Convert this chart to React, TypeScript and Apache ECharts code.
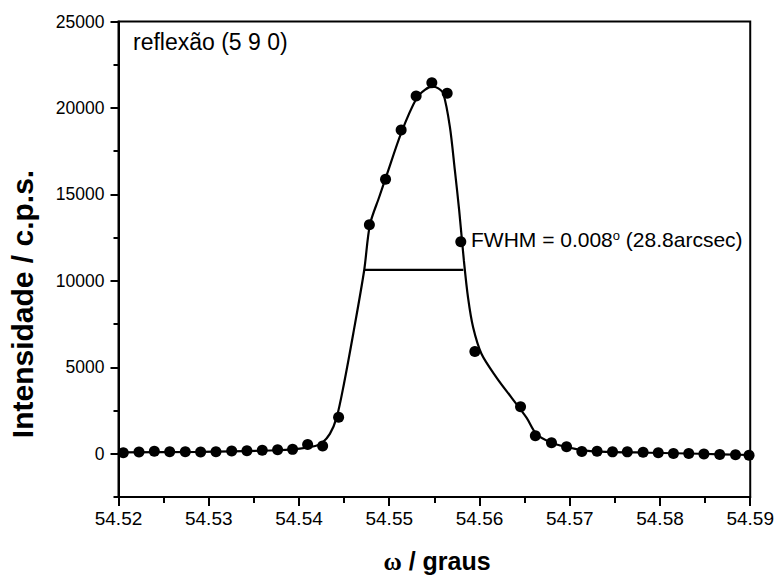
import React, { useEffect, useRef } from "react";
import * as echarts from "echarts";

// Observed points (ω in degrees, intensity in c.p.s.)
const omegaObs = [
  54.52053, 54.52227, 54.52397, 54.52567, 54.5274, 54.5291, 54.5308, 54.53254,
  54.53423, 54.53593, 54.53763, 54.53929, 54.54096, 54.54262, 54.54439, 54.5478,
  54.54959, 54.55132, 54.55298, 54.55472, 54.55642, 54.55793, 54.55949, 54.56455,
  54.56619, 54.56798, 54.56965, 54.57134, 54.57303, 54.57474, 54.57638, 54.57813,
  54.57981, 54.58149, 54.58319, 54.58487, 54.58662, 54.58837, 54.58987,
];
const intensityObs = [
  60, 100, 140, 120, 115, 100, 115, 155,
  175, 200, 230, 255, 540, 450, 2110, 13250,
  15880, 18720, 20690, 21460, 20850, 12260, 5920, 2720,
  1040, 640, 400, 130, 150, 110, 110, 90,
  60, 20, 10, -10, -40, -60, -80,
];

// Fitted curve
const omegaFit = [
  54.52, 54.529, 54.5368, 54.5401, 54.5418, 54.54254, 54.54342, 54.54417,
  54.54498, 54.54601, 54.54722, 54.54786, 54.54889, 54.54971, 54.55137, 54.55303,
  54.55395, 54.5548, 54.55539, 54.55598, 54.55672, 54.55727, 54.55775, 54.55827,
  54.55874, 54.5593, 54.56023, 54.56189, 54.56355, 54.56521, 54.56632, 54.56798,
  54.56968, 54.57134, 54.57333, 54.57887, 54.5844, 54.59,
];
const intensityFit = [
  80, 110, 190, 300, 450, 620, 1150, 2090,
  4040, 6940, 10600, 13250, 14850, 16110, 18620, 20560,
  21050, 21230, 21150, 20850, 18910, 16400, 14080, 11180,
  9000, 7300, 5770, 4410, 3250, 2090, 1130, 640,
  390, 215, 128, 60, 0, -70,
];

// FWHM marker
const fwhmOmega = [54.5473, 54.55821];
const fwhmLevel = 10640;

// Axis ticks
const xMajorTicks = [54.52, 54.53, 54.54, 54.55, 54.56, 54.57, 54.58, 54.59];
const xMinorTicks = [54.525, 54.535, 54.545, 54.555, 54.565, 54.575, 54.585];
const yMajorTicks = [0, 5000, 10000, 15000, 20000, 25000];
const yMinorTicks = [-2500, 2500, 7500, 12500, 17500, 22500];

const FONT = "'Liberation Sans', Arial, Helvetica, sans-serif";

export default function App() {
  const ref = useRef<HTMLDivElement>(null);

  useEffect(() => {
    if (!ref.current) return;
    const chart = echarts.init(ref.current, null, { renderer: "svg" });
    const obs = omegaObs.map((x, i) => [x, intensityObs[i]]);
    const fit = omegaFit.map((x, i) => [x, intensityFit[i]]);
    const fwhm = fwhmOmega.map((x) => [x, fwhmLevel]);

    const xBase = {
      type: "value",
      min: 54.52,
      max: 54.59,
      position: "bottom",
      splitLine: { show: false },
    };
    const yBase = {
      type: "value",
      min: -2500,
      max: 25000,
      position: "left",
      splitLine: { show: false },
    };

    chart.setOption({
      animation: false,
      backgroundColor: "#ffffff",
      grid: {
        left: 118.5,
        top: 21.5,
        width: 632,
        height: 475.5,
        show: true,
        borderColor: "#000",
        borderWidth: 2,
        backgroundColor: "transparent",
      },
      xAxis: [
        {
          ...xBase,
          axisLine: { show: true, onZero: false, lineStyle: { color: "#000", width: 2 } },
          axisTick: {
            show: true,
            customValues: xMajorTicks,
            length: 9,
            inside: false,
            lineStyle: { color: "#000", width: 2 },
          },
          axisLabel: {
            customValues: xMajorTicks,
            formatter: (v: number) => v.toFixed(2),
            color: "#000",
            fontFamily: FONT,
            fontSize: 19,
            margin: 12,
          },
        },
        {
          ...xBase,
          axisLine: { show: false, onZero: false },
          axisTick: {
            show: true,
            customValues: xMinorTicks,
            length: 6,
            lineStyle: { color: "#000", width: 2 },
          },
          axisLabel: { show: false },
        },
      ],
      yAxis: [
        {
          ...yBase,
          axisLine: { show: true, onZero: false, lineStyle: { color: "#000", width: 2 } },
          axisTick: {
            show: true,
            customValues: yMajorTicks,
            length: 8,
            lineStyle: { color: "#000", width: 2 },
          },
          axisLabel: {
            customValues: yMajorTicks,
            formatter: (v: number) => String(Math.round(v)),
            color: "#000",
            fontFamily: FONT,
            fontSize: 17.5,
            margin: 14,
          },
        },
        {
          ...yBase,
          axisLine: { show: false, onZero: false },
          axisTick: {
            show: true,
            customValues: yMinorTicks,
            length: 5,
            lineStyle: { color: "#000", width: 2 },
          },
          axisLabel: { show: false },
        },
      ],
      series: [
        {
          type: "line",
          data: fit,
          xAxisIndex: 0,
          yAxisIndex: 0,
          showSymbol: false,
          symbol: "none",
          smooth: 0.3,
          lineStyle: { color: "#000", width: 2.2 },
          silent: true,
          z: 2,
        },
        {
          type: "line",
          data: fwhm,
          xAxisIndex: 0,
          yAxisIndex: 0,
          symbol: "none",
          lineStyle: { color: "#000", width: 2.2 },
          silent: true,
          z: 2,
        },
        {
          type: "scatter",
          data: obs,
          xAxisIndex: 0,
          yAxisIndex: 0,
          symbol: "circle",
          symbolSize: 11,
          itemStyle: { color: "#000", opacity: 1 },
          z: 3,
        },
      ],
      graphic: [
        {
          type: "text",
          x: 133,
          y: 42,
          style: {
            text: "reflexão (5 9 0)",
            font: `23px ${FONT}`,
            fill: "#000",
            align: "left",
            verticalAlign: "middle",
          },
        },
        {
          type: "text",
          x: 471,
          y: 239,
          style: {
            text: "{a|FWHM = 0.008}{s|o}{a| (28.8arcsec)}",
            fill: "#000",
            align: "left",
            verticalAlign: "middle",
            rich: {
              a: { fontFamily: FONT, fontSize: 21, fill: "#000" },
              s: { fontFamily: FONT, fontSize: 13, fill: "#000", verticalAlign: "top" },
            },
          },
        },
        {
          type: "text",
          x: 22,
          y: 304,
          rotation: Math.PI / 2,
          style: {
            text: "Intensidade / c.p.s.",
            font: `bold 30px ${FONT}`,
            fill: "#000",
            align: "center",
            verticalAlign: "middle",
          },
        },
        {
          type: "text",
          x: 437,
          y: 561,
          style: {
            text: "{w|ω}{t| / graus}",
            fill: "#000",
            align: "center",
            verticalAlign: "middle",
            rich: {
              w: { fontFamily: "'Liberation Serif', 'DejaVu Serif', serif", fontWeight: "bold", fontSize: 25, fill: "#000" },
              t: { fontFamily: FONT, fontWeight: "bold", fontSize: 25, fill: "#000" },
            },
          },
        },
      ],
    });
    return () => chart.dispose();
  }, []);

  return (
    <div
      ref={ref}
      style={{ position: "absolute", left: 0, top: 0, width: 777, height: 578, background: "#fff" }}
    />
  );
}
